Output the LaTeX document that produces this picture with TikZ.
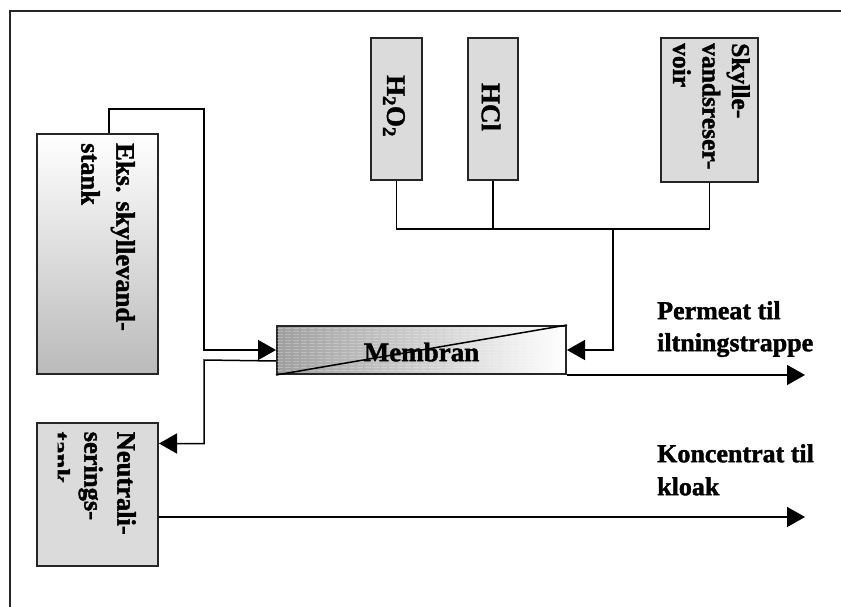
\documentclass[tikz,border=0pt]{standalone}
\usepackage{fontspec}
\setmainfont{Liberation Serif}[BoldFeatures={FakeBold=1.5}]
\usetikzlibrary{arrows.meta,calc}
\begin{document}
\begin{tikzpicture}[x=1pt,y=-1pt,
  tank/.style={draw=black!85, line width=2pt, fill=black!14, inner sep=0pt, anchor=north west},
  conn/.style={draw=black, line width=1.5pt},
  arr/.style={conn, -{Triangle[length=18pt,width=20pt]}},
  lbl/.style={font=\bfseries\fontsize{26}{32}\selectfont, inner sep=0pt, align=left},
  vlbl/.style={lbl, rotate=-90, anchor=north west},
]
\useasboundingbox (0,0) rectangle (841,607);
\draw[draw=black!85, line width=2pt] (841,11) -- (10,11) -- (10,607);

% tanks
\node[tank, minimum width=121pt, minimum height=240pt, top color=white, bottom color=black!27] (eks) at (36,133) {};
\node[tank, minimum width=121pt, minimum height=143pt] (neut) at (36,422) {};
\node[tank, minimum width=51pt, minimum height=142pt] (h2o2) at (370,37) {};
\node[tank, minimum width=50pt, minimum height=142pt] (hcl) at (467,37) {};
\node[tank, minimum width=97pt, minimum height=144pt] (sky) at (660,37) {};

% membrane
\node[draw=black!85, line width=2pt, left color=black!38, right color=white, inner sep=0pt,
      anchor=north west, minimum width=289pt, minimum height=48pt] (mem) at (276,325) {};
\begin{scope}
  \clip (277,326) rectangle (564,372);
  \foreach \yy in {328,331,...,370}
    \draw[white, opacity=0.25, line width=0.7pt, dash pattern=on 6pt off 2pt] (277,\yy) -- (564,\yy);
\end{scope}
\node[lbl, font=\bfseries\fontsize{27}{32}\selectfont] (memT) at ([yshift=-2pt]mem.center) {Membran};
\draw[conn] (mem.south west) -- (mem.north east);

% texts in tanks
\node[vlbl, font=\bfseries\fontsize{26.5}{35}\selectfont] (eksT) at (135,143) {Eks. skyllevand-\\stank};
\begin{scope}
  \clip (57.5,422) rectangle (157,565);
  \node[vlbl, font=\bfseries\fontsize{26.5}{33}\selectfont] (neutT) at (136,431.5) {Neutrali-\\serings-\\tank};
\end{scope}
\node[vlbl, font=\bfseries\fontsize{25.5}{29.5}\selectfont] (skyT) at (750,43) {Skylle-\\vandsreser-\\voir};
\node[lbl, rotate=-90, font=\bfseries\fontsize{27}{30}\selectfont] (h2o2T) at (394,106) {H\textsubscript{2}O\textsubscript{2}};
\node[lbl, rotate=-90, font=\bfseries\fontsize{27}{30}\selectfont] (hclT) at (491,107) {HCl};

% outside labels
\node[lbl, anchor=north west] (perm) at (657,301) {Permeat til\\iltningstrappe};
\node[lbl, anchor=north west, font=\bfseries\fontsize{26}{33}\selectfont] (kon) at (657,444) {Koncentrat til\\kloak};

% coordinates
\coordinate (j1) at (204,109);
\coordinate (j2) at (204,360);
\coordinate (bus) at (0,229);
\coordinate (feed) at (613,229);
\coordinate (permEnd) at (805,373);
\coordinate (konEnd) at (805,517);

% connectors
\draw[arr] ([xshift=11.5pt]eks.north) |- (j1) |- (mem.west);
\draw[arr] ([yshift=-11pt]mem.west) -- (j2) |- ([yshift=-21.5pt]neut.north east);
\draw[conn] (h2o2.south) -- (h2o2.south |- bus) -- (sky.south |- bus) -- (sky.south);
\draw[conn] (hcl.south) -- (hcl.south |- bus);
\draw[arr] (feed) |- (mem.east);
\draw[arr] (mem.south east) -- (mem.south east -| permEnd);
\draw[arr] (neut.east |- konEnd) -- (konEnd);
\end{tikzpicture}
\end{document}
